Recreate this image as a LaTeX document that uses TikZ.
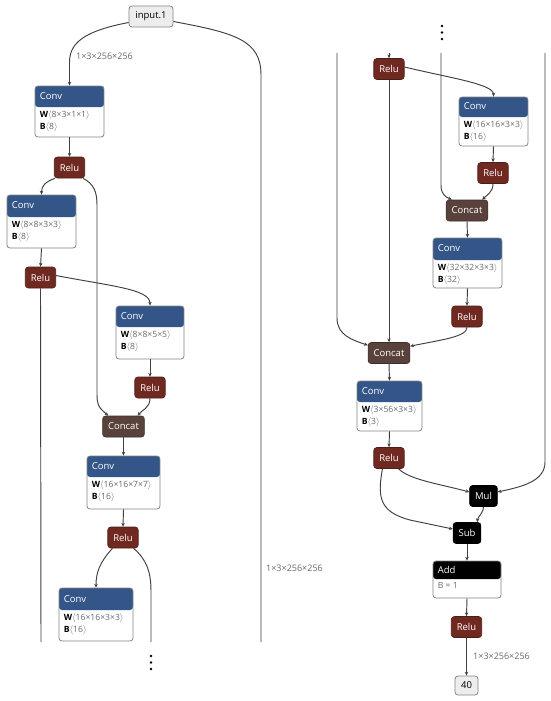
\documentclass[tikz,border=0pt]{standalone}
\usepackage{fontspec}
\setmainfont{Open Sans}
\usetikzlibrary{arrows.meta}
\definecolor{convblue}{HTML}{335588}
\definecolor{relured}{HTML}{702921}
\definecolor{concatbrown}{HTML}{59423B}
\definecolor{edgegray}{HTML}{404040}
\definecolor{attrgray}{HTML}{6A6A6A}
\definecolor{boxgray}{HTML}{858585}
\tikzset{
  edge/.style={draw=edgegray, line width=0.95pt, -{Stealth[length=3.8pt,width=3.4pt]}},
  plainedge/.style={draw=edgegray, line width=0.95pt},
  opnode/.style={rounded corners=3pt, minimum height=21pt, inner xsep=5.5pt, inner ysep=0pt,
    font=\fontsize{9.5}{10}\selectfont, text=white, draw=#1!70!black, line width=0.6pt, fill=#1},
  lbox/.style={draw=boxgray, line width=0.8pt, fill=white, rounded corners=3pt, inner sep=0pt},
  htext/.style={font=\fontsize{9.5}{10}\selectfont, text=white, inner sep=0pt},
  btext/.style={font=\fontsize{8.6}{12}\selectfont, align=left, inner sep=0pt},
  iobox/.style={draw=boxgray, line width=0.8pt, fill=black!7, rounded corners=3pt, inner xsep=5pt, inner ysep=0pt,
    font=\fontsize{9.5}{10}\selectfont},
  shapelbl/.style={font=\fontsize{9}{10}\selectfont, text=attrgray, inner sep=0pt},
}
\newcommand\layerbox[9]{%
  \node[lbox, minimum width=#4pt, minimum height=#5pt,
    path picture={\fill[#7] ([yshift=1pt]path picture bounding box.north west) rectangle ([yshift=-#6pt]path picture bounding box.north east);}] (#1) at (#2,#3) {};
  \node[htext, anchor=west] (#1-t) at ([xshift=5pt,yshift=-#6pt/2]#1.north west) {#8};
  \node[btext, anchor=north west] (#1-b) at ([xshift=5pt,yshift=-#6pt-3.5pt]#1.north west) {#9};
}
\newcommand\wb[2]{\textbf{#1}\textcolor{attrgray}{$\langle$#2$\rangle$}}
\begin{document}
\begin{tikzpicture}[x=1pt,y=-1pt]
\useasboundingbox (0,0) rectangle (550,701);
\fill[white] (0,0) rectangle (550,701);
% ---------------- left column ----------------
\node[iobox, minimum width=44pt, minimum height=21pt] (in) at (151,16.5) {input.1};
\layerbox{c1}{69.5}{111.5}{69}{51}{21}{convblue}{Conv}{\wb{W}{8×3×1×1}\\\wb{B}{8}}
\node[opnode=relured] (r1) at (69.5,167.5) {Relu};
\layerbox{c2}{41.5}{221.5}{69}{53}{22}{convblue}{Conv}{\wb{W}{8×8×3×3}\\\wb{B}{8}}
\node[opnode=relured] (r2) at (40.5,277.5) {Relu};
\layerbox{c3}{150}{332.5}{68}{53}{21}{convblue}{Conv}{\wb{W}{8×8×5×5}\\\wb{B}{8}}
\node[opnode=relured] (r3) at (150,387.5) {Relu};
\node[opnode=concatbrown] (cc1) at (123.5,426.5) {Concat};
\layerbox{c4}{123.5}{482.5}{73}{53}{21}{convblue}{Conv}{\wb{W}{16×16×7×7}\\\wb{B}{16}}
\node[opnode=relured] (r4) at (123,537.5) {Relu};
\layerbox{c5}{96}{614.5}{74}{53}{22}{convblue}{Conv}{\wb{W}{16×16×3×3}\\\wb{B}{16}}
\coordinate (eL) at (41,642);
\coordinate (eM) at (151,642);
\coordinate (eR) at (261,642);
% edges left
\draw[edge] ([yshift=-6pt]in.west) .. controls (90,30) and (69.5,40) .. (69.5,62) -- (c1.north);
\node[shapelbl, anchor=west] (l1) at (76,56) {1×3×256×256};
\draw[plainedge] ([yshift=-5pt]in.east) .. controls (235,33) and (261,40) .. (261,75) -- (eR);
\node[shapelbl, anchor=west] (l2) at (266,568) {1×3×256×256};
\draw[edge] (c1.south) -- (r1.north);
\draw[edge] ([xshift=1pt]r1.south west) .. controls (45,182) and (41.5,186) .. (c2.north);
\draw[edge] ([xshift=-2pt]r1.south east) .. controls (94,184) and (97,192) .. (97,205) -- (97,395) .. controls (97,408) and (102,410) .. ([xshift=6pt]cc1.north west);
\draw[edge] (c2.south) -- (r2.north);
\draw[plainedge] (r2.south) -- (eL);
\draw[edge] ([yshift=2pt]r2.east) .. controls (110,286) and (150,289) .. (c3.north);
\draw[edge] (c3.south) -- (r3.north);
\draw[edge] (r3.south) .. controls (150,408) and (142,410) .. ([xshift=-7pt]cc1.north east);
\draw[edge] (cc1.south) -- (c4.north);
\draw[edge] (c4.south) -- (r4.north);
\draw[edge] ([xshift=5pt]r4.south west) .. controls (100,562) and (96,572) .. (c5.north);
\draw[plainedge] ([xshift=-5pt]r4.south east) .. controls (147,560) and (151,572) .. (151,592) -- (eM);
\foreach \yy in {656,662.5,669} \fill[black] (151,\yy) circle (1.3pt);
% ---------------- right column ----------------
\foreach \yy in {26,32.5,39} \fill[black] (442,\yy) circle (1.3pt);
\coordinate (sA) at (337,53);
\coordinate (sB) at (389,53);
\coordinate (sC) at (441,53);
\coordinate (sD) at (545,53);
\node[opnode=relured] (r5) at (389,69) {Relu};
\layerbox{c6}{493.5}{121.5}{69}{49}{20}{convblue}{Conv}{\wb{W}{16×16×3×3}\\\wb{B}{16}}
\node[opnode=relured] (r6) at (493,173) {Relu};
\node[opnode=concatbrown] (cc3) at (467,210.5) {Concat};
\layerbox{c7}{467.5}{263}{69}{50}{22}{convblue}{Conv}{\wb{W}{32×32×3×3}\\\wb{B}{32}}
\node[opnode=relured] (r7) at (467,316.5) {Relu};
\node[opnode=concatbrown] (cc2) at (389,353) {Concat};
\layerbox{c8}{389.5}{406}{65}{50}{21}{convblue}{Conv}{\wb{W}{3×56×3×3}\\\wb{B}{3}}
\node[opnode=relured] (r8) at (389,458) {Relu};
\node[opnode=black] (mul) at (483.5,496) {Mul};
\node[opnode=black] (sub) at (467,533) {Sub};
\layerbox{add}{467}{579.5}{68}{37}{18}{black}{Add}{\textcolor{attrgray}{B = 1}}
\node[opnode=relured] (r9) at (466.5,627) {Relu};
\node[iobox, minimum width=23pt, minimum height=19pt] (out) at (466.5,685.5) {40};
% edges right
\draw[edge] (sB) -- (r5.north);
\draw[edge] (r5.south) -- (cc2.north);
\draw[edge] ([yshift=2pt]r5.east) .. controls (450,78) and (493.5,84) .. (c6.north);
\draw[edge] (c6.south) -- (r6.north);
\draw[edge] (r6.south) .. controls (493,192) and (487,195) .. ([xshift=-6pt]cc3.north east);
\draw[edge] (sC) -- (441,185) .. controls (441,195) and (446,197) .. ([xshift=6pt]cc3.north west);
\draw[edge] (cc3.south) -- (c7.north);
\draw[edge] (c7.south) -- (r7.north);
\draw[edge] (r7.south) .. controls (467,337) and (440,340) .. ([yshift=-4pt]cc2.north east);
\draw[edge] (sA) -- (337,318) .. controls (337,335) and (352,340) .. ([yshift=-3pt]cc2.north west);
\draw[edge] (cc2.south) -- (c8.north);
\draw[edge] (c8.south) -- (r8.north);
\draw[edge] ([xshift=-6pt]r8.south east) .. controls (410,480) and (440,484) .. ([yshift=4pt]mul.west);
\draw[edge] ([xshift=9pt]r8.south west) .. controls (377,498) and (380,512) .. (410,520) -- ([yshift=4pt]sub.west);
\draw[edge] (sD) -- (545,462) .. controls (545,482) and (520,487) .. ([yshift=4pt]mul.east);
\draw[edge] (mul.south) .. controls (483,514) and (478,516) .. ([xshift=-4pt]sub.north east);
\draw[edge] (sub.south) -- (add.north);
\draw[edge] (add.south) -- (r9.north);
\draw[edge] (r9.south) -- (out.north);
\node[shapelbl, anchor=west] (l3) at (473,656) {1×3×256×256};
\end{tikzpicture}
\end{document}
